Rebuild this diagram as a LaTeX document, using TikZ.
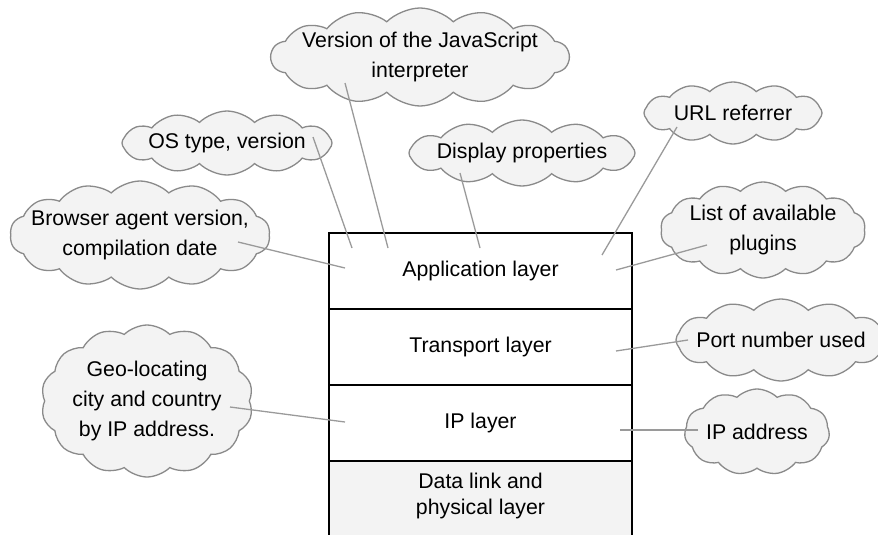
\documentclass[tikz,border=0pt]{standalone}
\usepackage{fontspec}
\setmainfont{Liberation Sans}
\usetikzlibrary{shapes.symbols, positioning, calc}
\definecolor{cloudfill}{HTML}{F3F3F3}
\definecolor{cloudline}{HTML}{8A8A8A}
\definecolor{linkline}{HTML}{9A9A9A}
\definecolor{basefill}{HTML}{F3F3F3}
\tikzset{
  cloudbox/.style={cloud, cloud puffs=14, cloud puff arc=90, cloud ignores aspect, draw=cloudline, fill=cloudfill, line width=1.3pt, inner sep=0pt},
  cloudtext/.style={align=center, inner sep=0pt, font=\fontsize{21.3}{30}\selectfont},
  layerbox/.style={rectangle, draw, line width=1.6pt, minimum width=303pt, minimum height=76pt, outer sep=0pt, align=center, font=\fontsize{21.3}{26}\selectfont},
  link/.style={draw=linkline, line width=1.3pt},
}

\begin{document}
\begin{tikzpicture}[x=1pt, y=-1pt]
  \useasboundingbox (0,0) rectangle (878,535);

  % Protocol stack
  \node[layerbox, anchor=north] (app) at (480.5,233) {Application layer};
  \node[layerbox, below=0pt of app] (trans) {Transport layer};
  \node[layerbox, below=0pt of trans] (ip) {IP layer};
  \node[layerbox, below=0pt of ip, minimum height=90pt, fill=basefill] (base) {};
  \node[font=\fontsize{21.3}{26}\selectfont, align=center] (basetext) at (480.5,496) {Data link and\\physical layer};

  % Clouds
  \node[cloudbox, minimum width=298pt, minimum height=98pt, label={[cloudtext]center:Version of the JavaScript\\interpreter}] (js) at (420,57) {};
  \node[cloudbox, minimum width=210pt, minimum height=64pt, cloud puffs=12, label={[cloudtext]center:OS type, version}] (os) at (227,143) {};
  \node[cloudbox, minimum width=226pt, minimum height=66pt, cloud puffs=12, label={[cloudtext]center:Display properties}] (disp) at (522,153) {};
  \node[cloudbox, minimum width=178pt, minimum height=62pt, cloud puffs=12, label={[cloudtext]center:URL referrer}] (url) at (733,113) {};
  \node[cloudbox, minimum width=205pt, minimum height=96pt, label={[cloudtext]center:List of available\\plugins}] (plug) at (763,230) {};
  \node[cloudbox, minimum width=260pt, minimum height=108pt, label={[cloudtext]center:Browser agent version,\\compilation date}] (brw) at (140,235) {};
  \node[cloudbox, minimum width=212pt, minimum height=152pt, label={[cloudtext]center:Geo-locating\\city and country\\by IP address.}] (geo) at (147,401) {};
  \node[cloudbox, minimum width=210pt, minimum height=82pt, cloud puffs=12, label={[cloudtext]center:Port number used}] (port) at (781,340) {};
  \node[cloudbox, minimum width=145pt, minimum height=86pt, cloud puffs=11, label={[cloudtext]center:IP address}] (ipaddr) at (757,432) {};

  % Where the lines end in the stack
  \coordinate (jsEnd) at (388,248);
  \coordinate (osEnd) at (352,248);
  \coordinate (dispEnd) at (480,248);
  \coordinate (urlEnd) at (602,255);
  \coordinate (plugEnd) at (616,270);
  \coordinate (brwEnd) at (345,268);
  \coordinate (geoEnd) at (345,422);
  \coordinate (portEnd) at (616,351);
  \coordinate (ipEnd) at (620,430);

  \draw[link] ($(js)+(-75,26)$) -- (jsEnd);
  \draw[link] ($(os)+(86,-6)$) -- (osEnd);
  \draw[link] ($(disp)+(-62,20)$) -- (dispEnd);
  \draw[link] ($(url)+(-56,14)$) -- (urlEnd);
  \draw[link] ($(plug)+(-56,15)$) -- (plugEnd);
  \draw[link] ($(brw)+(98,7)$) -- (brwEnd);
  \draw[link] ($(geo)+(83,6)$) -- (geoEnd);
  \draw[link] ($(port)+(-93,0)$) -- (portEnd);
  \draw[link] ($(ipaddr)+(-59,-2)$) -- (ipEnd);
\end{tikzpicture}
\end{document}
